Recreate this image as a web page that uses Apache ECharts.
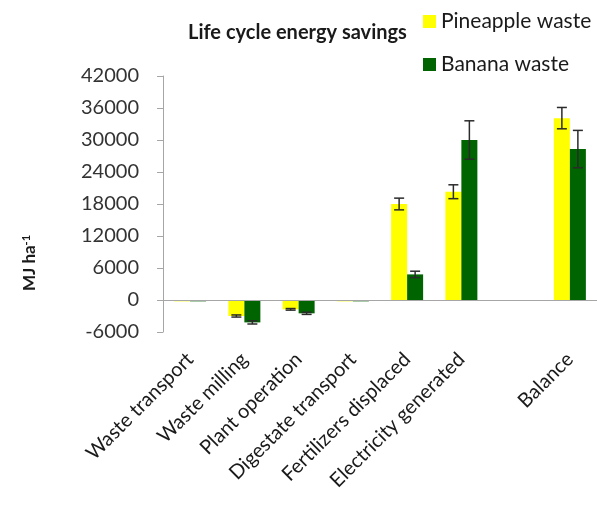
<!DOCTYPE html>
<html>
<head>
<meta charset="utf-8">
<script src="https://cdn.jsdelivr.net/npm/echarts@6/dist/echarts.min.js"></script>
<style>
  html, body { margin: 0; padding: 0; background: #fff; }
  #main { width: 597px; height: 505px; }
</style>
</head>
<body>
<div id="main"></div>
<script>
const categories = [
  "Waste transport",
  "Waste milling",
  "Plant operation",
  "Digestate transport",
  "Fertilizers displaced",
  "Electricity generated",
  "",
  "Balance",
];
const pineapple = [-250, -3000, -1750, -250, 18000, 20300, null, 34100];
const banana = [-250, -4200, -2500, -250, 4800, 30000, null, 28300];
const pineappleErr = [0, 200, 150, 0, 1100, 1300, null, 2000];
const bananaErr = [0, 300, 200, 0, 600, 3600, null, 3500];
const yTicks = { min: -6000, max: 42000, step: 6000 };

const chart = echarts.init(document.getElementById("main"));
const font = "Lato, 'Open Sans', sans-serif";
const barW = 16;

function errData(vals, errs) {
  return vals
    .map((v, i) => (v == null || !errs[i] ? null : [i, v - errs[i], v + errs[i]]))
    .filter((d) => d);
}

function errSeries(name, vals, errs, offset) {
  return {
    name: name + " err",
    type: "custom",
    silent: true,
    z: 5,
    data: errData(vals, errs),
    renderItem: function (params, api) {
      const lo = api.coord([api.value(0), api.value(1)]);
      const hi = api.coord([api.value(0), api.value(2)]);
      const x = lo[0] + offset;
      const cap = 5;
      const style = { stroke: "#2b2b2b", lineWidth: 1.5 };
      return {
        type: "group",
        children: [
          { type: "line", shape: { x1: x, y1: lo[1], x2: x, y2: hi[1] }, style },
          { type: "line", shape: { x1: x - cap, y1: lo[1], x2: x + cap, y2: lo[1] }, style },
          { type: "line", shape: { x1: x - cap, y1: hi[1], x2: x + cap, y2: hi[1] }, style },
        ],
      };
    },
  };
}

const options = {
  animation: false,
  title: {
    text: "Life cycle energy savings",
    left: 183,
    top: 18,
    textStyle: { fontFamily: font, fontSize: 20, fontWeight: "bold", color: "#1a1a1a" },
  },
  legend: {
    data: ["Pineapple waste", "Banana waste"],
    orient: "vertical",
    left: 418,
    top: 6,
    itemGap: 22,
    itemWidth: 13,
    itemHeight: 13,
    icon: "rect",
    textStyle: { fontFamily: font, fontSize: 21, color: "#1a1a1a" },
  },
  graphic: [
    {
      type: "text",
      x: 30,
      y: 263,
      rotation: Math.PI / 2,
      style: {
        text: "{b|MJ ha}{s|-1}",
        align: "center",
        verticalAlign: "middle",
        rich: {
          b: { fontFamily: font, fontSize: 17, fontWeight: "bold", fill: "#1a1a1a" },
          s: { fontFamily: font, fontSize: 11, fontWeight: "bold", fill: "#1a1a1a", verticalAlign: "top", padding: [0, 0, 8, 0] },
        },
      },
    },
  ],
  grid: { left: 163, right: 0, top: 76, bottom: 173 },
  xAxis: {
    type: "category",
    data: categories,
    axisLine: { show: false, onZero: false },
    axisTick: { show: false },
    axisLabel: {
      rotate: 45,
      margin: 24,
      interval: 0,
      fontFamily: font,
      fontSize: 20,
      color: "#1a1a1a",
    },
  },
  yAxis: {
    type: "value",
    min: yTicks.min,
    max: yTicks.max,
    interval: yTicks.step,
    splitLine: { show: false },
    axisLine: { show: true, lineStyle: { color: "#a6a6a6" } },
    axisTick: { show: true, length: 6, lineStyle: { color: "#a6a6a6" } },
    axisLabel: {
      margin: 24,
      fontFamily: font,
      fontSize: 20,
      color: "#333",
      formatter: (v) => String(v),
    },
  },
  series: [
    {
      name: "Pineapple waste",
      type: "bar",
      barWidth: barW,
      barGap: "0%",
      itemStyle: { color: "#ffff00" },
      data: pineapple,
      markLine: {
        silent: true,
        symbol: "none",
        label: { show: false },
        lineStyle: { color: "#a6a6a6", type: "solid", width: 1 },
        data: [{ yAxis: 0 }],
      },
    },
    {
      name: "Banana waste",
      type: "bar",
      barWidth: barW,
      itemStyle: { color: "#006400" },
      data: banana,
    },
    errSeries("Pineapple waste", pineapple, pineappleErr, -barW / 2),
    errSeries("Banana waste", banana, bananaErr, barW / 2),
  ],
};
chart.setOption(options);
</script>
</body>
</html>
